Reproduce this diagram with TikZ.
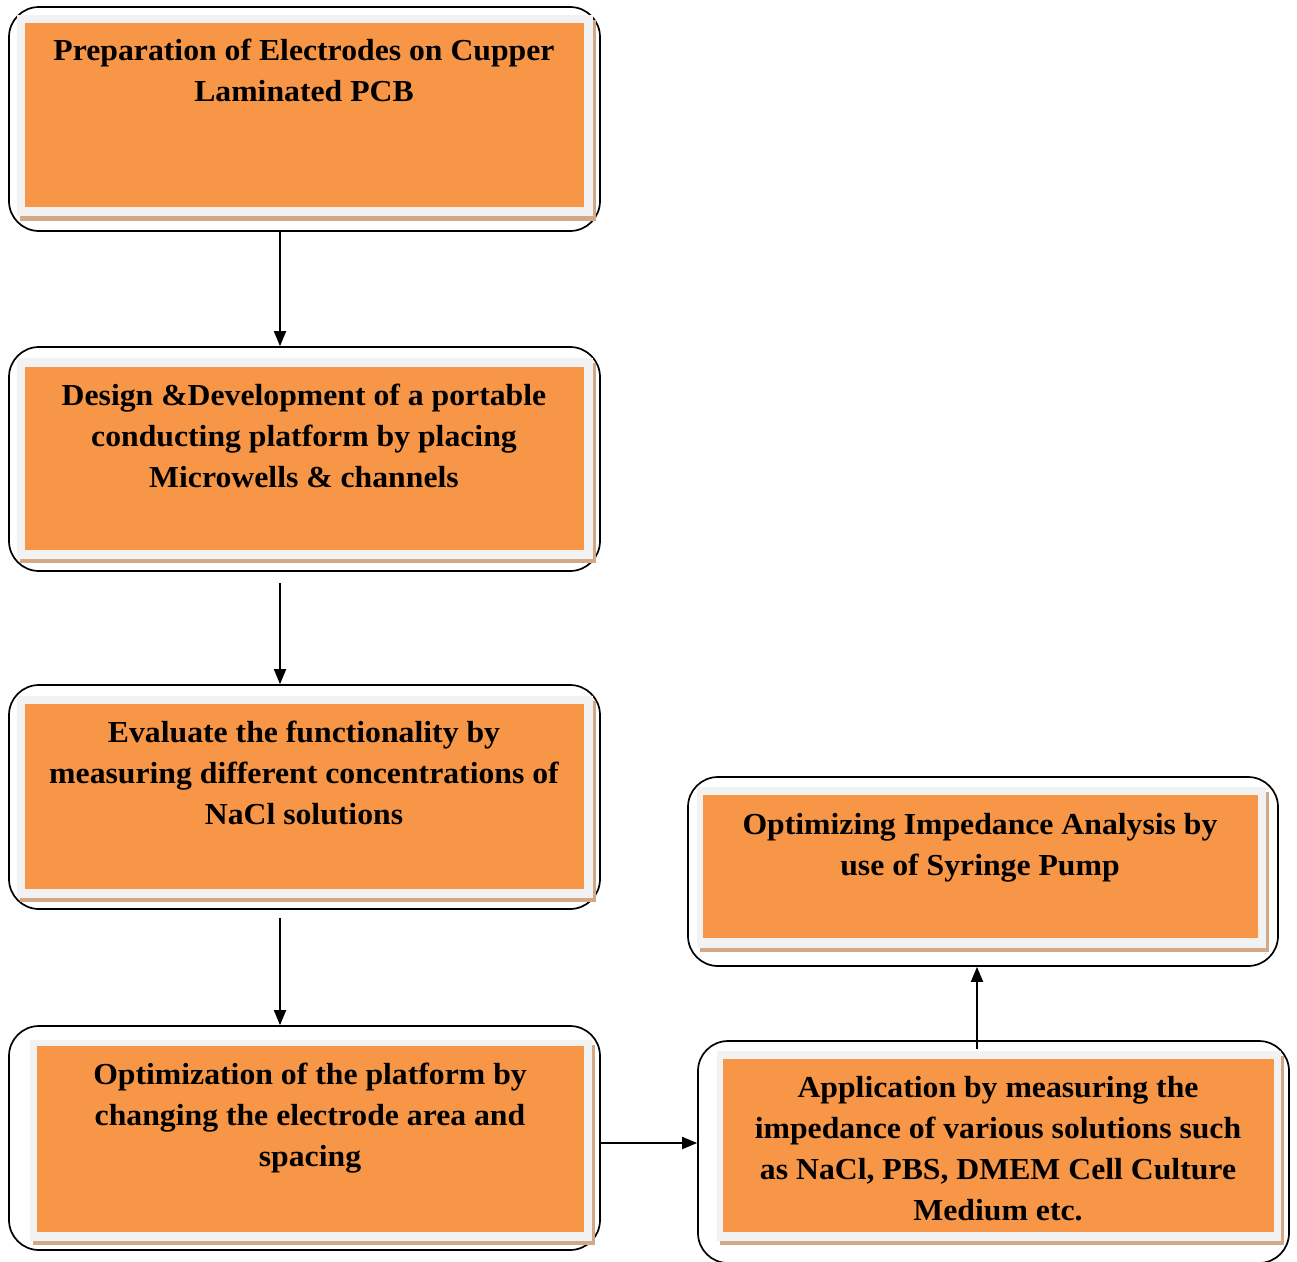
\documentclass[tikz,border=0pt]{standalone}
\usepackage{fontspec}
\setmainfont[FakeStretch=1.04]{Liberation Serif}
\usetikzlibrary{arrows.meta}
\definecolor{boxorange}{HTML}{F79646}
\definecolor{boxgray}{HTML}{F2F2F2}
\definecolor{boxtan}{HTML}{D3A887}
\tikzset{
  outerbox/.style={draw=black, line width=1.7pt, rounded corners=30pt, fill=white, inner sep=0pt},
  tanlayer/.style={fill=boxtan, draw=none},
  graylayer/.style={fill=boxgray, draw=none},
  orangelayer/.style={fill=boxorange, draw=none},
  label/.style={anchor=north, inner sep=0pt, align=center, font=\fontsize{30.5}{41}\selectfont\bfseries},
  arr/.style={line width=1.8pt, -{Triangle[length=15pt,width=12pt]}}
}
\newcommand{\layered}[8]{%
  % #1 name, #2..#5 outer x1 y1 x2 y2 ; #6 gray ; #7 orange ; #8 tan
  \node[outerbox, minimum width={#4-#2}, minimum height={#5-#3}] (#1) at ({(#2+#4)/2},{(#3+#5)/2}) {};
  \fill[tanlayer] #8;
  \fill[graylayer] #6;
  \fill[orangelayer] #7;
}
\begin{document}
\begin{tikzpicture}[x=1pt,y=-1pt]
\useasboundingbox (0,0) rectangle (1297,1261);
% Box 1
\layered{b1}{9}{7}{600}{231}{(17,15) rectangle (593,216)}{(25,23) rectangle (584,207)}{(20,20) rectangle (596,221)}
\node[label] (t1) at (304,39) {Preparation of Electrodes on Cupper\\Laminated PCB};
% Box 2
\layered{b2}{9}{347}{600}{571}{(17,358) rectangle (593,559)}{(25,367) rectangle (584,550)}{(20,363) rectangle (596,563)}
\node[label] (t2) at (304,384) {Design \&Development of a portable\\conducting platform by placing\\Microwells \& channels};
% Box 3
\layered{b3}{9}{685}{600}{909}{(17,696) rectangle (593,898)}{(25,704) rectangle (584,889)}{(20,701) rectangle (596,902)}
\node[label] (t3) at (304,721) {Evaluate the functionality by\\measuring different concentrations of\\NaCl solutions};
% Box 4
\layered{b4}{9}{1026}{600}{1250}{(30,1040) rectangle (592,1241)}{(37,1046) rectangle (584,1232)}{(33,1045) rectangle (595,1245)}
\node[label] (t4) at (310,1063) {Optimization of the platform by\\changing the electrode area and\\spacing};
% Box 5
\layered{b5}{698}{1041}{1289}{1263}{(717,1051) rectangle (1281,1241)}{(723,1059) rectangle (1274,1232)}{(720,1056) rectangle (1284,1245)}
\node[label] (t5) at (998,1076) {Application by measuring the\\impedance of various solutions such\\as NaCl, PBS, DMEM Cell Culture\\Medium etc.};
% Box 6
\layered{b6}{688}{777}{1278}{966}{(697,787) rectangle (1266,948)}{(703,795) rectangle (1258,938)}{(700,792) rectangle (1269,952)}
\node[label] (t6) at (980,813) {Optimizing Impedance Analysis by\\use of Syringe Pump};
% connectors
\coordinate (ax) at (280,0);
\coordinate (bx) at (977,0);
\draw[arr] (b1.south -| ax) -- (b2.north -| ax);
\draw[arr] ([yshift=-11pt]b2.south -| ax) -- (b3.north -| ax);
\draw[arr] ([yshift=-8pt]b3.south -| ax) -- (b4.north -| ax);
\draw[arr] (b4.east |- 0,1143) -- (b5.west |- 0,1143);
\draw[arr] ([yshift=-9pt]b5.north -| bx) -- (b6.south -| bx);
\end{tikzpicture}
\end{document}
